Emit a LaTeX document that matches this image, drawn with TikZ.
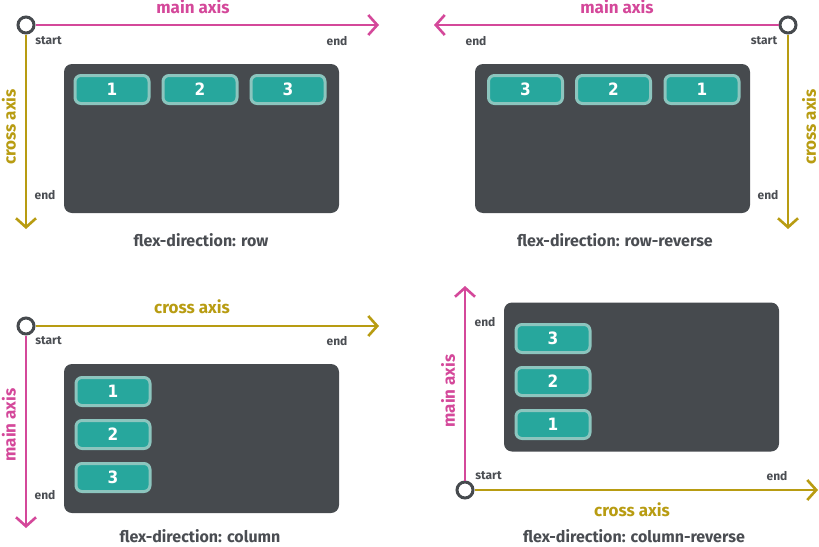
\documentclass[tikz,border=0pt]{standalone}
\usepackage{fontspec}
\setmainfont{Fira Sans}
\newfontfamily\numfont{DejaVu Sans Condensed}
\usetikzlibrary{arrows.meta}
\definecolor{mainpink}{HTML}{D4489A}
\definecolor{crossgold}{HTML}{B89C12}
\definecolor{boxgrey}{HTML}{464A4E}
\definecolor{itemteal}{HTML}{27A79D}
\definecolor{itemedge}{HTML}{8CC5BE}
\definecolor{labelgrey}{HTML}{4A4D52}

\begin{document}
\begin{tikzpicture}[x=1pt, y=-1pt,
  axis/.style={line width=2.6pt, -{Straight Barb[length=9pt, width=20pt]}},
  origin/.style={circle, draw=boxgrey, fill=white, line width=3pt, minimum size=16pt, inner sep=0pt},
  axisname/.style={font=\fontsize{17}{19}\selectfont\bfseries},
  endname/.style={font=\fontsize{12}{14}\selectfont\bfseries, text=labelgrey},
  caption/.style={font=\fontsize{16}{18}\selectfont\bfseries, text=labelgrey},
  panel/.style={fill=boxgrey, rounded corners=8pt, minimum width=275pt, minimum height=149pt, inner sep=0pt},
  item/.style={fill=itemteal, draw=itemedge, line width=3pt, rounded corners=6pt,
    minimum width=74pt, minimum height=28pt, inner sep=0pt, text=white,
    font=\numfont\bfseries\fontsize{17}{19}\selectfont}]
  \useasboundingbox (0,0) rectangle (819,546);

  % row
  \node[panel] (box1) at (201.5,138.5) {};
  \foreach \n/\x in {1/112,2/200,3/288}
    \node[item] (row\n) at (\x,89.5) {\n};
  \node[origin] (o1) at (26,25) {};
  \coordinate (main1) at (379,25);
  \coordinate (cross1) at (26,229);
  \draw[axis, mainpink] (o1) -- (main1);
  \draw[axis, crossgold] (o1) -- (cross1);
  \node[axisname, text=mainpink] (mlabel1) at (193,7) {main axis};
  \node[axisname, text=crossgold, rotate=90] (clabel1) at (9,127) {cross axis};
  \node[endname] (start1) at (48.5,41) {start};
  \node[endname] (mend1) at (337,41) {end};
  \node[endname] (cend1) at (45,195) {end};
  \node[caption] (cap1) at (201,240) {flex-direction: row};

  % row-reverse
  \node[panel] (box2) at (612.5,138.5) {};
  \foreach \n/\x in {3/525.5,2/613.5,1/702}
    \node[item] (rrow\n) at (\x,89.5) {\n};
  \node[origin] (o2) at (788,25) {};
  \coordinate (main2) at (434,25);
  \coordinate (cross2) at (788,229);
  \draw[axis, mainpink] (o2) -- (main2);
  \draw[axis, crossgold] (o2) -- (cross2);
  \node[axisname, text=mainpink] (mlabel2) at (617,7) {main axis};
  \node[axisname, text=crossgold, rotate=90] (clabel2) at (809,127) {cross axis};
  \node[endname] (start2) at (764,41) {start};
  \node[endname] (mend2) at (476,41) {end};
  \node[endname] (cend2) at (768,195) {end};
  \node[caption] (cap2) at (615,240) {flex-direction: row-reverse};

  % column
  \node[panel] (box3) at (201.5,438.5) {};
  \foreach \n/\y in {1/391.5,2/434.5,3/477.5}
    \node[item] (col\n) at (113,\y) {\n};
  \node[origin] (o3) at (26,326) {};
  \coordinate (cross3) at (379,326);
  \coordinate (main3) at (26,528);
  \draw[axis, crossgold] (o3) -- (cross3);
  \draw[axis, mainpink] (o3) -- (main3);
  \node[axisname, text=crossgold] (clabel3) at (192,307) {cross axis};
  \node[axisname, text=mainpink, rotate=90] (mlabel3) at (9,425) {main axis};
  \node[endname] (start3) at (48.5,341) {start};
  \node[endname] (cend3) at (337,341) {end};
  \node[endname] (mend3) at (45,495) {end};
  \node[caption] (cap3) at (200,536) {flex-direction: column};

  % column-reverse
  \node[panel] (box4) at (641.5,377) {};
  \foreach \n/\y in {3/338.5,2/381.5,1/424.5}
    \node[item] (rcol\n) at (553,\y) {\n};
  \node[origin] (o4) at (465,490) {};
  \coordinate (main4) at (465,286);
  \coordinate (cross4) at (818,490);
  \draw[axis, mainpink] (o4) -- (main4);
  \draw[axis, crossgold] (o4) -- (cross4);
  \node[axisname, text=mainpink, rotate=90] (mlabel4) at (448,391) {main axis};
  \node[axisname, text=crossgold] (clabel4) at (632,510) {cross axis};
  \node[endname] (start4) at (488.5,476) {start};
  \node[endname] (mend4) at (485,322) {end};
  \node[endname] (cend4) at (777,476) {end};
  \node[caption] (cap4) at (634,536) {flex-direction: column-reverse};
\end{tikzpicture}
\end{document}
